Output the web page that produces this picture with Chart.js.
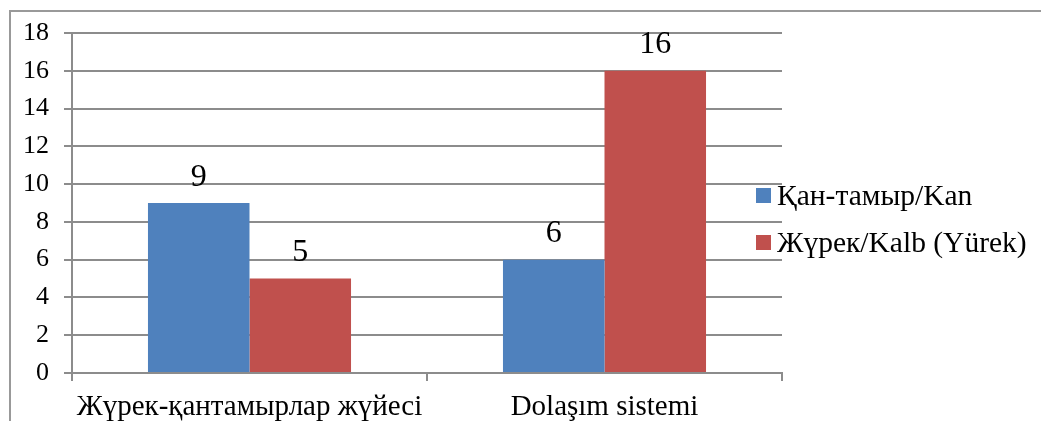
<!DOCTYPE html>
<html>
<head>
<meta charset="utf-8">
<script src="https://cdn.jsdelivr.net/npm/chart.js@4.4.1/dist/chart.umd.min.js"></script>
<style>
    html, body { margin: 0; padding: 0; background: #fff; }
    #wrap { position: relative; width: 1041px; height: 421px; }
</style>
</head>
<body>
<div id="wrap"><canvas id="chart"></canvas></div>
<script>
// chart data
const categories = ['Жүрек-қантамырлар жүйесі', 'Dolaşım sistemi'];
const seriesNames = ['Қан-тамыр/Kan', 'Жүрек/Kalb (Yürek)'];
const kanValues = [9, 6];
const yurekValues = [5, 16];
const yTicks = [0, 2, 4, 6, 8, 10, 12, 14, 16, 18];

const FONT = '"Liberation Serif", "Times New Roman", serif';
const GRID = '#8c8c8c';

// outer frame of the chart object
const framePlugin = {
    id: 'frame',
    beforeDraw: function(chart) {
        const ctx = chart.ctx;
        ctx.save();
        ctx.fillStyle = '#fff';
        ctx.fillRect(0, 0, chart.width, chart.height);
        ctx.strokeStyle = '#999';
        ctx.lineWidth = 2;
        ctx.beginPath();
        ctx.moveTo(10, chart.height + 5);
        ctx.lineTo(10, 11);
        ctx.lineTo(chart.width + 5, 11);
        ctx.stroke();
        ctx.restore();
    }
};

// value labels above the bars
const valueLabels = {
    id: 'valueLabels',
    afterDatasetsDraw: function(chart) {
        const ctx = chart.ctx;
        ctx.save();
        ctx.font = '32px ' + FONT;
        ctx.fillStyle = '#000';
        ctx.textAlign = 'center';
        ctx.textBaseline = 'alphabetic';
        chart.data.datasets.forEach(function(ds, i) {
            chart.getDatasetMeta(i).data.forEach(function(bar, j) {
                ctx.fillText(String(ds.data[j]), bar.x, bar.y - 17.5);
            });
        });
        ctx.restore();
    }
};

// legend on the right
const sideLegend = {
    id: 'sideLegend',
    afterDraw: function(chart) {
        const ctx = chart.ctx;
        ctx.save();
        ctx.font = '29.5px ' + FONT;
        ctx.textBaseline = 'alphabetic';
        ctx.textAlign = 'left';
        chart.data.datasets.forEach(function(ds, i) {
            const top = 188 + i * 47;
            ctx.fillStyle = ds.backgroundColor;
            ctx.fillRect(756, top, 15, 15);
            ctx.fillStyle = '#000';
            ctx.fillText(ds.label, 777, top + 17);
        });
        ctx.restore();
    }
};

new Chart(document.getElementById('chart'), {
    type: 'bar',
    data: {
        labels: categories,
        datasets: [
            {
                label: seriesNames[0],
                data: kanValues,
                backgroundColor: '#4F81BD',
                categoryPercentage: 0.572,
                barPercentage: 1.0
            },
            {
                label: seriesNames[1],
                data: yurekValues,
                backgroundColor: '#C0504D',
                categoryPercentage: 0.572,
                barPercentage: 1.0
            }
        ]
    },
    options: {
        responsive: true,
        maintainAspectRatio: false,
        animation: false,
        layout: {
            padding: { top: 33, left: 0, right: 259, bottom: 0 }
        },
        plugins: {
            legend: { display: false },
            tooltip: { enabled: false }
        },
        scales: {
            x: {
                afterFit: function(scale) { scale.height = 48; },
                grid: {
                    offset: true,
                    drawOnChartArea: false,
                    color: GRID,
                    lineWidth: 2,
                    tickLength: 8
                },
                border: { display: true, color: GRID, width: 2 },
                ticks: {
                    color: '#000',
                    padding: 9,
                    maxRotation: 0,
                    font: { family: FONT, size: 29 }
                }
            },
            y: {
                min: yTicks[0],
                max: yTicks[yTicks.length - 1],
                afterFit: function(scale) { scale.width = 72; },
                afterBuildTicks: function(scale) {
                    scale.ticks = yTicks.map(function(v) { return { value: v }; });
                },
                grid: {
                    color: GRID,
                    lineWidth: 2,
                    tickLength: 8
                },
                border: { display: true, color: GRID, width: 2 },
                ticks: {
                    color: '#000',
                    padding: 15,
                    font: { family: FONT, size: 26 }
                }
            }
        }
    },
    plugins: [framePlugin, valueLabels, sideLegend]
});
</script>
</body>
</html>
